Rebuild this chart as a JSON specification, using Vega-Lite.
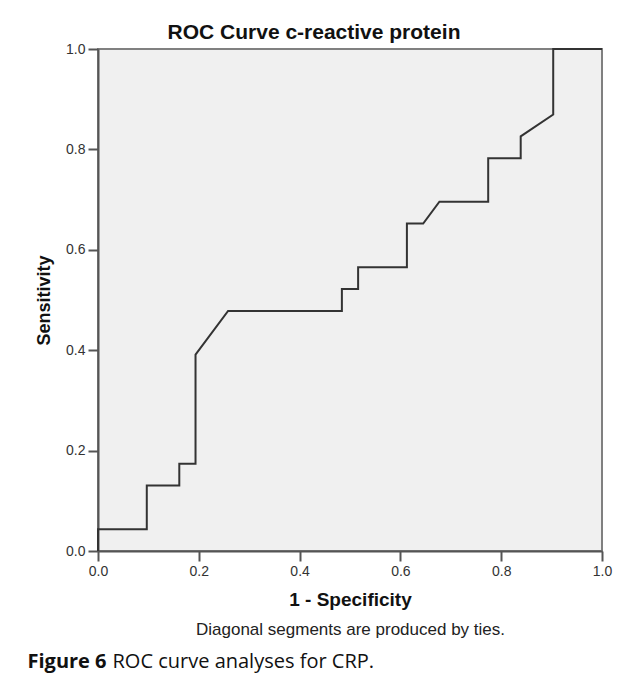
{
  "$schema": "https://vega.github.io/schema/vega-lite/v6.json",
  "width": 504,
  "height": 502,
  "autosize": "none",
  "padding": {"left": 98, "top": 49, "right": 30, "bottom": 129},
  "background": "white",
  "title": {
    "text": "ROC Curve c-reactive protein",
    "font": "Liberation Sans",
    "fontSize": 21,
    "fontWeight": "bold",
    "color": "#111111",
    "anchor": "middle",
    "frame": "group",
    "dx": -36,
    "dy": 9,
    "offset": 8
  },
  "data": {
    "values": [
      {"step": 0, "fpr": 0, "tpr": 0},
      {"step": 1, "fpr": 0, "tpr": 0.0435},
      {"step": 2, "fpr": 0.0968, "tpr": 0.0435},
      {"step": 3, "fpr": 0.0968, "tpr": 0.1304},
      {"step": 4, "fpr": 0.1613, "tpr": 0.1304},
      {"step": 5, "fpr": 0.1613, "tpr": 0.1739},
      {"step": 6, "fpr": 0.1935, "tpr": 0.1739},
      {"step": 7, "fpr": 0.1935, "tpr": 0.3913},
      {"step": 8, "fpr": 0.2581, "tpr": 0.4783},
      {"step": 9, "fpr": 0.4839, "tpr": 0.4783},
      {"step": 10, "fpr": 0.4839, "tpr": 0.5217},
      {"step": 11, "fpr": 0.5161, "tpr": 0.5217},
      {"step": 12, "fpr": 0.5161, "tpr": 0.5652},
      {"step": 13, "fpr": 0.6129, "tpr": 0.5652},
      {"step": 14, "fpr": 0.6129, "tpr": 0.6522},
      {"step": 15, "fpr": 0.6452, "tpr": 0.6522},
      {"step": 16, "fpr": 0.6774, "tpr": 0.6957},
      {"step": 17, "fpr": 0.7742, "tpr": 0.6957},
      {"step": 18, "fpr": 0.7742, "tpr": 0.7826},
      {"step": 19, "fpr": 0.8387, "tpr": 0.7826},
      {"step": 20, "fpr": 0.8387, "tpr": 0.8261},
      {"step": 21, "fpr": 0.9032, "tpr": 0.8696},
      {"step": 22, "fpr": 0.9032, "tpr": 1},
      {"step": 23, "fpr": 1, "tpr": 1}
    ]
  },
  "layer": [
    {
      "mark": {"type": "line", "color": "#333333", "strokeWidth": 2, "clip": false},
      "encoding": {
        "x": {
          "field": "fpr",
          "type": "quantitative",
          "scale": {"domain": [0, 1], "nice": false, "zero": false},
          "axis": {
            "title": "1 - Specificity",
            "orient": "bottom",
            "values": [0, 0.2, 0.4, 0.6, 0.8, 1],
            "format": ".1f",
            "titleFontSize": 19,
            "titlePadding": 12
          }
        },
        "y": {
          "field": "tpr",
          "type": "quantitative",
          "scale": {"domain": [0, 1], "nice": false, "zero": false},
          "axis": {
            "title": "Sensitivity",
            "values": [0, 0.2, 0.4, 0.6, 0.8, 1],
            "format": ".1f",
            "titlePadding": 12
          }
        },
        "order": {"field": "step", "type": "quantitative"}
      }
    },
    {
      "mark": {"type": "rule", "opacity": 0},
      "encoding": {
        "x": {
          "field": "fpr",
          "type": "quantitative",
          "axis": {
            "orient": "bottom",
            "title": "Diagonal segments are produced by ties.",
            "labels": false,
            "ticks": false,
            "domain": false,
            "grid": false,
            "titleFontWeight": "normal",
            "titleFontSize": 17,
            "titleColor": "#222222",
            "titlePadding": 70
          }
        }
      }
    },
    {
      "mark": {"type": "rule", "opacity": 0},
      "encoding": {
        "x": {
          "field": "fpr",
          "type": "quantitative",
          "axis": {
            "orient": "bottom",
            "title": "Figure 6",
            "labels": false,
            "ticks": false,
            "domain": false,
            "grid": false,
            "titleFont": "Open Sans",
            "titleFontWeight": "bold",
            "titleFontSize": 20,
            "titleColor": "#111111",
            "titleAnchor": "start",
            "titleAlign": "left",
            "titleX": -71,
            "titlePadding": 100
          }
        }
      }
    },
    {
      "mark": {"type": "rule", "opacity": 0},
      "encoding": {
        "x": {
          "field": "fpr",
          "type": "quantitative",
          "axis": {
            "orient": "bottom",
            "title": "ROC curve analyses for CRP.",
            "labels": false,
            "ticks": false,
            "domain": false,
            "grid": false,
            "titleFont": "Open Sans",
            "titleFontWeight": "normal",
            "titleFontSize": 20,
            "titleColor": "#111111",
            "titleAnchor": "start",
            "titleAlign": "left",
            "titleX": 14,
            "titlePadding": 100
          }
        }
      }
    }
  ],
  "resolve": {"axis": {"x": "independent"}},
  "config": {
    "view": {"fill": "#f0f0f0", "stroke": "#808080", "strokeWidth": 2},
    "axis": {
      "grid": false,
      "domainColor": "#555555",
      "domainWidth": 2,
      "tickColor": "#555555",
      "tickWidth": 2,
      "tickSize": 10,
      "labelFlush": false,
      "labelFont": "Liberation Sans",
      "labelFontSize": 14,
      "labelColor": "#333333",
      "labelPadding": 3,
      "titleFont": "Liberation Sans",
      "titleFontSize": 18,
      "titleFontWeight": "bold",
      "titleColor": "#111111"
    }
  }
}
